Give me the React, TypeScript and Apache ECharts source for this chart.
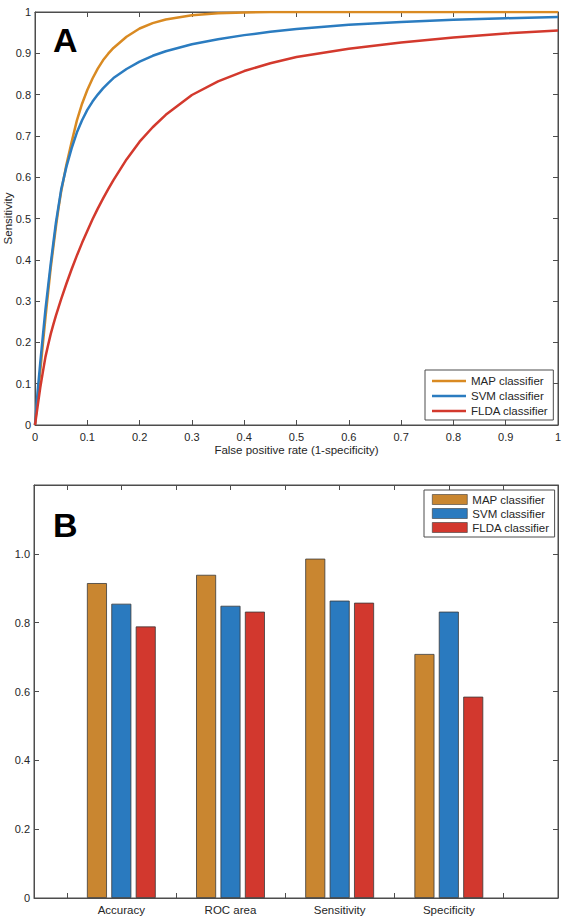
import React, { useEffect, useRef } from 'react';
import * as echarts from 'echarts';

// ROC curves (false positive rate -> sensitivity)
const fpr = [0, 0.005, 0.01, 0.015, 0.02, 0.025, 0.03, 0.035, 0.04, 0.045, 0.05, 0.06, 0.07, 0.08, 0.09, 0.1, 0.11, 0.12, 0.13, 0.14, 0.15, 0.175, 0.2, 0.225, 0.25, 0.3, 0.35, 0.4, 0.45, 0.5, 0.6, 0.7, 0.8, 0.9, 1.0];
const mapTpr = [0, 0.065, 0.13, 0.195, 0.26, 0.32, 0.38, 0.43, 0.48, 0.525, 0.565, 0.63, 0.685, 0.737, 0.778, 0.811, 0.839, 0.863, 0.883, 0.899, 0.913, 0.94, 0.96, 0.973, 0.982, 0.992, 0.997, 0.999, 1.0, 1.0, 1.0, 1.0, 1.0, 1.0, 1.0];
const svmTpr = [0, 0.08, 0.15, 0.215, 0.28, 0.335, 0.39, 0.44, 0.49, 0.53, 0.57, 0.625, 0.67, 0.708, 0.738, 0.763, 0.783, 0.8, 0.815, 0.828, 0.84, 0.862, 0.88, 0.894, 0.905, 0.922, 0.934, 0.944, 0.952, 0.959, 0.969, 0.976, 0.981, 0.985, 0.988];
const fldaTpr = [0, 0.045, 0.09, 0.128, 0.165, 0.193, 0.22, 0.243, 0.265, 0.285, 0.305, 0.342, 0.377, 0.41, 0.441, 0.47, 0.498, 0.524, 0.548, 0.571, 0.593, 0.643, 0.686, 0.721, 0.751, 0.799, 0.832, 0.857, 0.876, 0.891, 0.911, 0.926, 0.938, 0.948, 0.955];

const classifierNames = ['MAP classifier', 'SVM classifier', 'FLDA classifier'];
const lineColors = ['#D98A22', '#2B7CC0', '#D3392D'];
const barColors = ['#C98630', '#2A7ABF', '#D2382E'];

// Panel B metrics
const metrics = ['Accuracy', 'ROC area', 'Sensitivity', 'Specificity'];
const mapScores = [0.915, 0.939, 0.986, 0.709];
const svmScores = [0.855, 0.849, 0.864, 0.832];
const fldaScores = [0.789, 0.832, 0.858, 0.585];

const bottomTicksB = [0.5, 1.5, 2.5, 3.5, 4.5];
const topTicksB = [0.5, 1, 1.5, 2, 2.5, 3, 3.5, 4, 4.5];

export default function App() {
  const ref = useRef<HTMLDivElement>(null);
  useEffect(() => {
    const chart = echarts.init(ref.current!, null, { renderer: 'svg' });
    const font = 'Liberation Sans, Arial, Helvetica, sans-serif';
    const axisCol = '#4d4d4d';
    const axisLine = { show: true, onZero: false, lineStyle: { color: axisCol, width: 1 } };
    const tick = (extra: any = {}) => ({ show: true, inside: true, length: 5, lineStyle: { color: axisCol, width: 1 }, ...extra });
    const lbl = { color: '#262626', fontSize: 11, fontFamily: font };
    const fmt1 = (v: number) => String(Math.round(v * 10) / 10);
    const fmtB = (v: number) => (v === 0 ? '0' : v > 1.1 ? '' : v.toFixed(1));

    const scoreSets = [mapScores, svmScores, fldaScores];
    const tprSets = [mapTpr, svmTpr, fldaTpr];

    const option: any = {
      animation: false,
      backgroundColor: '#ffffff',
      textStyle: { fontFamily: font },
      grid: [
        { left: 35, top: 12, width: 523, height: 413, containLabel: false, outerBoundsMode: 'none', show: true, borderColor: axisCol, borderWidth: 1, backgroundColor: 'transparent' },
        { left: 34, top: 485, width: 524, height: 413, containLabel: false, outerBoundsMode: 'none', show: true, borderColor: axisCol, borderWidth: 1, backgroundColor: 'transparent' },
      ],
      xAxis: [
        {
          gridIndex: 0, type: 'value', min: 0, max: 1, interval: 0.1, position: 'bottom',
          axisLine, axisTick: tick(), splitLine: { show: false },
          axisLabel: { ...lbl, margin: 6, formatter: fmt1 },
          name: 'False positive rate (1-specificity)', nameLocation: 'middle', nameGap: 19, nameMoveOverlap: false,
          nameTextStyle: { color: '#262626', fontSize: 11.5, fontFamily: font },
        },
        {
          gridIndex: 0, type: 'value', min: 0, max: 1, interval: 0.1, position: 'top',
          axisLine, axisTick: tick(), splitLine: { show: false }, axisLabel: { show: false },
        },
        {
          gridIndex: 1, type: 'value', min: 0.2, max: 5, position: 'bottom',
          axisLine, splitLine: { show: false },
          axisTick: tick({ customValues: bottomTicksB }),
          axisLabel: {
            ...lbl, fontSize: 11.5, margin: 6, customValues: metrics.map((_, i) => i + 1),
            formatter: (v: number) => metrics[Math.round(v) - 1] ?? '',
          },
        },
        {
          gridIndex: 1, type: 'value', min: 0.2, max: 5, position: 'top',
          axisLine, splitLine: { show: false },
          axisTick: tick({ customValues: topTicksB }), axisLabel: { show: false },
        },
      ],
      yAxis: [
        {
          gridIndex: 0, type: 'value', min: 0, max: 1, interval: 0.1, position: 'left',
          axisLine, axisTick: tick(), splitLine: { show: false },
          axisLabel: { ...lbl, margin: 4, formatter: fmt1 },
          name: 'Sensitivity', nameLocation: 'middle', nameGap: 21, nameMoveOverlap: false,
          nameTextStyle: { color: '#262626', fontSize: 11.5, fontFamily: font },
        },
        {
          gridIndex: 0, type: 'value', min: 0, max: 1, interval: 0.1, position: 'right',
          axisLine, axisTick: tick(), splitLine: { show: false }, axisLabel: { show: false },
        },
        {
          gridIndex: 1, type: 'value', min: 0, max: 1.2, interval: 0.2, position: 'left',
          axisLine, axisTick: tick(), splitLine: { show: false },
          axisLabel: { ...lbl, margin: 4, formatter: fmtB },
        },
        {
          gridIndex: 1, type: 'value', min: 0, max: 1.2, interval: 0.2, position: 'right',
          axisLine, axisTick: tick(), splitLine: { show: false }, axisLabel: { show: false },
        },
      ],
      legend: [
        {
          orient: 'vertical', left: 425, top: 370, data: classifierNames, icon: 'rect',
          itemWidth: 34, itemHeight: 2.5, itemGap: 1, padding: [4, 5, 2, 7],
          backgroundColor: '#ffffff', borderColor: axisCol, borderWidth: 1, borderRadius: 0,
          selectedMode: false,
          textStyle: { fontSize: 11.5, lineHeight: 14, color: '#262626', fontFamily: font },
        },
        {
          orient: 'vertical', left: 424, top: 490, data: classifierNames.map((n) => 'bar:' + n),
          formatter: (n: string) => n.replace('bar:', ''), icon: 'rect',
          itemWidth: 35, itemHeight: 10, itemGap: 1, padding: [3, 5, 3, 8],
          backgroundColor: '#ffffff', borderColor: axisCol, borderWidth: 1, borderRadius: 0,
          selectedMode: false,
          itemStyle: { borderWidth: 0.6, borderColor: '#3a3a3a' },
          textStyle: { fontSize: 11.5, lineHeight: 13, color: '#262626', fontFamily: font },
        },
      ],
      graphic: [
        { type: 'text', x: 53, y: 40, z: 100, style: { text: 'A', fontSize: 34, fontWeight: 'bold', fontFamily: font, fill: '#000', verticalAlign: 'middle', align: 'left' } },
        { type: 'text', x: 53, y: 525, z: 100, style: { text: 'B', fontSize: 34, fontWeight: 'bold', fontFamily: font, fill: '#000', verticalAlign: 'middle', align: 'left' } },
      ],
      series: [
        ...classifierNames.map((name, k) => ({
          type: 'line', name, xAxisIndex: 0, yAxisIndex: 0,
          data: fpr.map((x, i) => [x, tprSets[k][i]]),
          symbol: 'none', smooth: false,
          lineStyle: { color: lineColors[k], width: 2.5, join: 'round' }, itemStyle: { color: lineColors[k] },
        })),
        ...classifierNames.map((name, k) => ({
          type: 'bar', name: 'bar:' + name, xAxisIndex: 2, yAxisIndex: 2,
          data: metrics.map((_, i) => [i + 1, scoreSets[k][i]]),
          barWidth: 20, barGap: '22%',
          itemStyle: { color: barColors[k], borderColor: '#3a3a3a', borderWidth: 0.8 },
        })),
      ],
    };
    chart.setOption(option);
    return () => chart.dispose();
  }, []);
  return <div ref={ref} style={{ position: 'fixed', left: 0, top: 0, width: 570, height: 918, background: '#fff' }} />;
}
